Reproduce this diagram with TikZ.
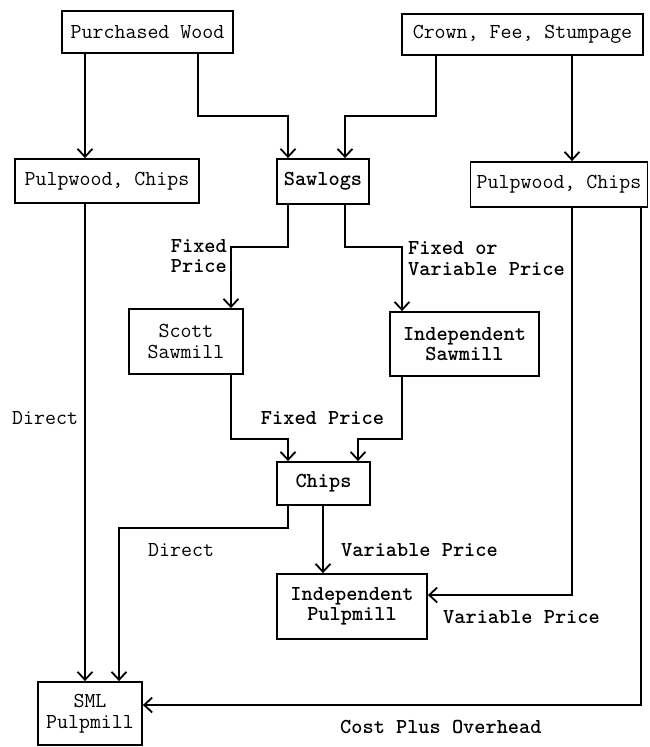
\documentclass[tikz,border=0pt]{standalone}
\usepackage{fontspec}
\usetikzlibrary{arrows.meta}
\newcommand{\diagfont}{\ttfamily\fontsize{21.3}{20.5}\selectfont}
\begin{document}
\begin{tikzpicture}[x=1pt,y=-1pt,
  box/.style={draw,line width=1.8pt,inner sep=0pt,align=center,font=\diagfont},
  boxb/.style={box,font=\diagfont\bfseries},
  lab/.style={inner sep=0pt,font=\diagfont},
  labb/.style={inner sep=0pt,font=\diagfont\bfseries},
  conn/.style={line width=1.8pt},
  arr/.style={conn,-{Straight Barb[length=8pt,width=15pt]}}]
\useasboundingbox (0,0) rectangle (649,747);
% nodes
\node[box,minimum width=171pt,minimum height=42pt] (pw) at (147.5,32) {Purchased Wood};
\node[box,minimum width=241pt,minimum height=41pt] (cfs) at (522.5,34.5) {Crown, Fee, Stumpage};
\node[box,minimum width=184pt,minimum height=44pt] (pcL) at (107,181) {Pulpwood, Chips};
\node[boxb,minimum width=92pt,minimum height=45pt] (saw) at (323,181.5) {Sawlogs};
\node[box,minimum width=177pt,minimum height=45pt] (pcR) at (559,184.5) {Pulpwood, Chips};
\node[box,minimum width=114pt,minimum height=65pt] (scott) at (186,341.5) {Scott\\Sawmill};
\node[boxb,minimum width=149pt,minimum height=64pt] (indS) at (464.5,344) {Independent\\Sawmill};
\node[boxb,minimum width=93pt,minimum height=43pt] (chips) at (323.5,483.5) {Chips};
\node[boxb,minimum width=150pt,minimum height=65pt] (indP) at (352,606.5) {Independent\\Pulpmill};
\node[box,minimum width=104pt,minimum height=63pt] (sml) at (90,713.5) {SML\\Pulpmill};
% routing coordinates
\coordinate (xA) at (85,0);
\coordinate (xB) at (198,0);
\coordinate (xC) at (288,0);
\coordinate (xD) at (345,0);
\coordinate (xE) at (436,0);
\coordinate (xF) at (572,0);
\coordinate (xG) at (641,0);
\coordinate (xH) at (231,0);
\coordinate (xI) at (402,0);
\coordinate (xJ) at (358,0);
\coordinate (xK) at (119,0);
\coordinate (xL) at (323,0);
\coordinate (yA) at (0,116);
\coordinate (yB) at (0,247);
\coordinate (yC) at (0,439);
\coordinate (yD) at (0,528);
\coordinate (yE) at (0,595);
\coordinate (yF) at (0,705);
% connectors
\draw[arr] (pw.south -| xA) -- (pcL.north -| xA);
\draw[arr] (pw.south -| xB) -- (xB |- yA) -- (xC |- yA) -- (saw.north -| xC);
\draw[arr] (cfs.south -| xE) -- (xE |- yA) -- (xD |- yA) -- (saw.north -| xD);
\draw[arr] (cfs.south -| xF) -- (pcR.north -| xF);
\draw[arr] (saw.south -| xC) -- (xC |- yB) -- (xH |- yB) -- (scott.north -| xH);
\draw[arr] (saw.south -| xD) -- (xD |- yB) -- (xI |- yB) -- (indS.north -| xI);
\draw[arr] (scott.south -| xH) -- (xH |- yC) -- (xC |- yC) -- (chips.north -| xC);
\draw[arr] (indS.south -| xI) -- (xI |- yC) -- (xJ |- yC) -- (chips.north -| xJ);
\draw[arr] (pcL.south -| xA) -- (sml.north -| xA);
\draw[arr] (chips.south -| xC) -- (xC |- yD) -- (xK |- yD) -- (sml.north -| xK);
\draw[arr] (chips.south -| xL) -- (indP.north -| xL);
\draw[arr] (pcR.south -| xF) -- (xF |- yE) -- (indP.east |- yE);
\draw[arr] (pcR.south -| xG) -- (xG |- yF) -- (sml.east |- yF);
% labels
\node[labb,anchor=east,align=right] (l1) at (227,256) {Fixed\\Price};
\node[labb,anchor=west,align=left] (l2) at (408,258.5) {Fixed or\\Variable Price};
\node[lab,anchor=west] (l3) at (12,418) {Direct};
\node[labb] (l4) at (322.5,418) {Fixed Price};
\node[lab,anchor=west] (l5) at (148,550) {Direct};
\node[labb,anchor=west] (l6) at (341,550) {Variable Price};
\node[labb,anchor=west] (l7) at (443,617) {Variable Price};
\node[labb,anchor=west] (l8) at (340,727) {Cost Plus Overhead};
\end{tikzpicture}
\end{document}
